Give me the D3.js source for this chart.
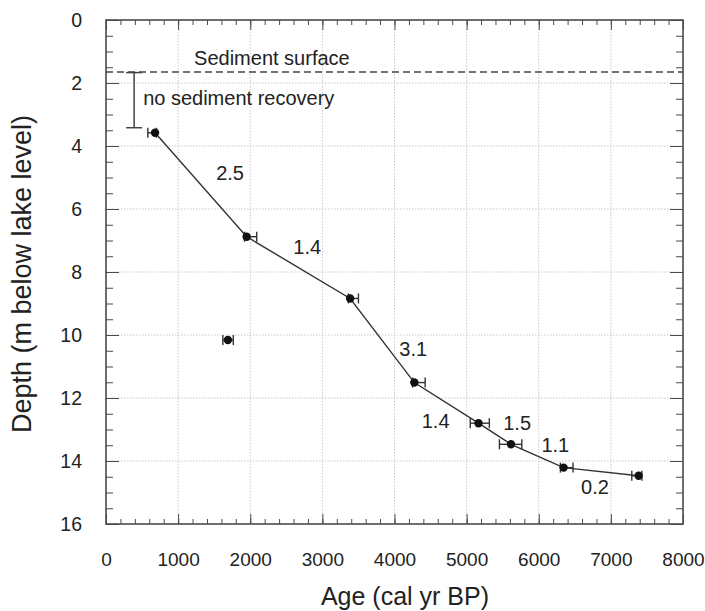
<!DOCTYPE html>
<html>
<head>
<meta charset="utf-8">
<script src="https://cdn.jsdelivr.net/npm/d3@7"></script>
<style>
  html, body { margin: 0; padding: 0; background: #fff; }
  svg { display: block; font-family: "Liberation Sans", Arial, sans-serif; }
</style>
</head>
<body>
<svg id="chart" width="705" height="611"></svg>
<script>
// Radiocarbon-dated samples: calibrated age (cal yr BP) vs depth (m below lake level)
const ages    = [680, 1950, 3385, 1690, 4275, 5165, 5615, 6345, 7385];
const ageLow  = [580, 1920, 3360, 1620, 4250, 5050, 5455, 6300, 7290];
const ageHigh = [700, 2090, 3500, 1765, 4425, 5315, 5765, 6475, 7430];
const depths  = [3.58, 6.88, 8.84, 10.16, 11.51, 12.80, 13.47, 14.21, 14.47];
// samples used in the age-depth model (index 3 is an outlier)
const modelIdx = [0, 1, 2, 4, 5, 6, 7, 8];

// sedimentation rates between model samples and where they are written
const rates      = ["2.5", "1.4", "3.1", "1.4", "1.5", "1.1", "0.2"];
const rateAge    = [1720, 2790, 4260, 4570, 5700, 6230, 6780];
const rateDepth  = [4.86, 7.2, 10.45, 12.72, 12.78, 13.5, 14.82];

// sediment surface and unrecovered section
const surfaceDepth = 1.65;
const gapAge = 390;
const gapDepths = [1.67, 3.42];

const xTicks = [0, 1000, 2000, 3000, 4000, 5000, 6000, 7000, 8000];
const yTicks = [0, 2, 4, 6, 8, 10, 12, 14, 16];

const svg = d3.select("#chart");
const L = 106, R = 683, T = 20, B = 524;

const x = d3.scaleLinear().domain([0, 8000]).range([L, R]);
const y = d3.scaleLinear().domain([0, 16]).range([T, B]);

const ink = "#222";
const frame = "#4a4a4a";

// dotted grid at major ticks
const grid = svg.append("g").attr("stroke", "#c8c8c8").attr("stroke-width", 1)
  .attr("stroke-dasharray", "1.5,1.5");
grid.selectAll("line.v").data(xTicks.slice(1, -1)).join("line")
  .attr("x1", d => x(d)).attr("x2", d => x(d)).attr("y1", T).attr("y2", B);
grid.selectAll("line.h").data(yTicks.slice(1, -1)).join("line")
  .attr("x1", L).attr("x2", R).attr("y1", d => y(d)).attr("y2", d => y(d));

// inward ticks on all four sides
const minorX = d3.range(0, 8001, 200);
const minorY = d3.range(0, 16.01, 0.5);
function inward(axisGen, scale, vals, size) {
  return axisGen(scale).tickValues(vals).tickSize(size).tickFormat("");
}
const tickStyle = g => {
  g.select(".domain").remove();
  g.selectAll(".tick line").attr("stroke", frame).attr("stroke-width", 1);
};
// bottom (ticks point up)
svg.append("g").attr("transform", `translate(0,${B})`)
  .call(inward(d3.axisTop, x, minorX, 5)).call(tickStyle);
svg.append("g").attr("transform", `translate(0,${B})`)
  .call(inward(d3.axisTop, x, xTicks, 10)).call(tickStyle);
// top (ticks point down)
svg.append("g").attr("transform", `translate(0,${T})`)
  .call(inward(d3.axisBottom, x, minorX, 5)).call(tickStyle);
svg.append("g").attr("transform", `translate(0,${T})`)
  .call(inward(d3.axisBottom, x, xTicks, 10)).call(tickStyle);
// left (ticks point right)
svg.append("g").attr("transform", `translate(${L},0)`)
  .call(inward(d3.axisRight, y, minorY, 7)).call(tickStyle);
svg.append("g").attr("transform", `translate(${L},0)`)
  .call(inward(d3.axisRight, y, yTicks, 13)).call(tickStyle);
// right (ticks point left)
svg.append("g").attr("transform", `translate(${R},0)`)
  .call(inward(d3.axisLeft, y, minorY, 7)).call(tickStyle);
svg.append("g").attr("transform", `translate(${R},0)`)
  .call(inward(d3.axisLeft, y, yTicks, 13)).call(tickStyle);

// tick labels
const xLab = svg.append("g").attr("transform", `translate(0,${B})`)
  .call(d3.axisBottom(x).tickValues(xTicks).tickSize(0).tickPadding(29).tickFormat(d3.format("d")));
xLab.select(".domain").remove();
xLab.selectAll("text").attr("font-size", 19).attr("fill", ink)
  .attr("font-family", "Liberation Sans, Arial, sans-serif");

const yLab = svg.append("g").attr("transform", `translate(${L},0)`)
  .call(d3.axisLeft(y).tickValues(yTicks).tickSize(0).tickPadding(24).tickFormat(d3.format("d")));
yLab.select(".domain").remove();
yLab.selectAll("text").attr("font-size", 19.5).attr("fill", ink)
  .attr("font-family", "Liberation Sans, Arial, sans-serif");

// plot frame
svg.append("rect").attr("x", L).attr("y", T).attr("width", R - L).attr("height", B - T)
  .attr("fill", "none").attr("stroke", frame).attr("stroke-width", 1.6);

// axis titles
svg.append("text").attr("x", 405).attr("y", 605).attr("text-anchor", "middle")
  .attr("font-size", 25).attr("fill", ink).text("Age (cal yr BP)");
svg.append("text").attr("transform", `translate(31,274) rotate(-90)`)
  .attr("text-anchor", "middle").attr("font-size", 27).attr("fill", ink)
  .text("Depth (m below lake level)");

// sediment surface
svg.append("line").attr("x1", L).attr("x2", R)
  .attr("y1", y(surfaceDepth)).attr("y2", y(surfaceDepth))
  .attr("stroke", "#444").attr("stroke-width", 1.4).attr("stroke-dasharray", "7,4");
svg.append("text").attr("x", x(2300)).attr("y", y(surfaceDepth) - 7)
  .attr("text-anchor", "middle").attr("font-size", 20).attr("fill", ink)
  .text("Sediment surface");

// no sediment recovery bracket
const gap = svg.append("g").attr("stroke", "#444").attr("stroke-width", 1.5);
gap.append("line").attr("x1", x(gapAge)).attr("x2", x(gapAge))
  .attr("y1", y(gapDepths[0])).attr("y2", y(gapDepths[1]));
gapDepths.forEach(d => {
  gap.append("line").attr("x1", x(gapAge) - 8).attr("x2", x(gapAge) + 8)
    .attr("y1", y(d)).attr("y2", y(d));
});
svg.append("text").attr("x", x(gapAge) + 9).attr("y", y(2.7))
  .attr("font-size", 20).attr("fill", ink).text("no sediment recovery");

// age-depth model line
const line = d3.line().x(i => x(ages[i])).y(i => y(depths[i]));
svg.append("path").attr("d", line(modelIdx)).attr("fill", "none")
  .attr("stroke", "#333").attr("stroke-width", 1.4);

// age error bars
const eb = svg.append("g").attr("stroke", "#333").attr("stroke-width", 1.4);
ages.forEach((a, i) => {
  const yy = y(depths[i]);
  eb.append("line").attr("x1", x(ageLow[i])).attr("x2", x(ageHigh[i])).attr("y1", yy).attr("y2", yy);
  [ageLow[i], ageHigh[i]].forEach(v => {
    eb.append("line").attr("x1", x(v)).attr("x2", x(v)).attr("y1", yy - 5).attr("y2", yy + 5);
  });
});

// sample points
svg.append("g").selectAll("circle").data(ages).join("circle")
  .attr("cx", d => x(d)).attr("cy", (d, i) => y(depths[i])).attr("r", 4.2)
  .attr("fill", "#111");

// sedimentation rate labels
svg.append("g").selectAll("text").data(rates).join("text")
  .attr("x", (d, i) => x(rateAge[i])).attr("y", (d, i) => y(rateDepth[i]) + 7)
  .attr("text-anchor", "middle").attr("font-size", 20).attr("fill", ink)
  .text(d => d);
</script>
</body>
</html>
